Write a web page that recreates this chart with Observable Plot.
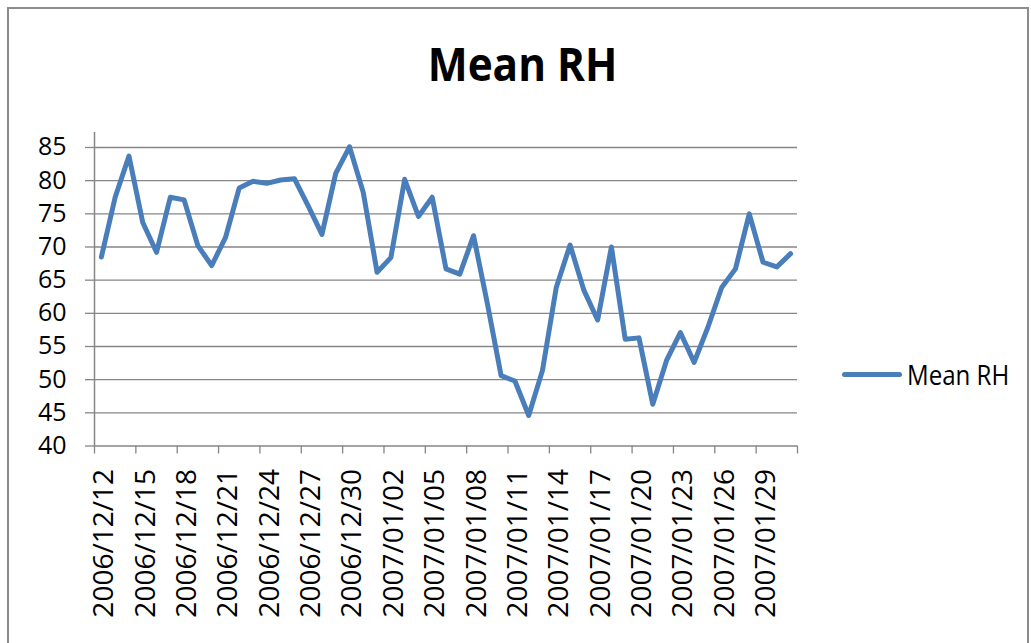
<!DOCTYPE html>
<html>
<head>
<meta charset="utf-8">
<script src="https://cdn.jsdelivr.net/npm/d3@7"></script>
<script src="https://cdn.jsdelivr.net/npm/@observablehq/plot@0.6"></script>
<style>
  html, body { margin: 0; padding: 0; background: #fff; }
  #wrap { position: relative; width: 1031px; height: 643px; overflow: hidden; font-family: "Open Sans", sans-serif; background: #fff; }
  #frame { position: absolute; left: 7px; top: 7px; width: 1022px; height: 700px; border: 2px solid #8c8c8c; box-sizing: border-box; }
  #title { position: absolute; left: 0; top: 40px; width: 1045px; text-align: center; font-weight: 700; font-size: 47px; line-height: 1; transform: scaleX(0.9); transform-origin: 522.5px 0; color: #000; }
  #chart { position: absolute; left: 0; top: 0; }
  #legend { position: absolute; left: 842px; top: 360px; height: 30px; }
  #legend .swatch { position: absolute; left: 0; top: 11.5px; width: 60px; height: 5px; background: #4a7ebb; border-radius: 3px; }
  #legend .lab { position: absolute; left: 65px; top: 0; font-size: 28px; line-height: 1; white-space: nowrap; transform: scaleX(0.86); transform-origin: 0 0; color: #000; }
</style>
</head>
<body>
<div id="wrap">
  <div id="frame"></div>
  <div id="chart"></div>
  <div id="title"></div>
  <div id="legend"><div class="swatch"></div><div class="lab"></div></div>
</div>
<script>
// ---- data ----
const title = "Mean RH";
const seriesName = "Mean RH";
const dates = [
  "2006/12/12","2006/12/13","2006/12/14","2006/12/15","2006/12/16","2006/12/17","2006/12/18",
  "2006/12/19","2006/12/20","2006/12/21","2006/12/22","2006/12/23","2006/12/24","2006/12/25",
  "2006/12/26","2006/12/27","2006/12/28","2006/12/29","2006/12/30","2006/12/31",
  "2007/01/01","2007/01/02","2007/01/03","2007/01/04","2007/01/05","2007/01/06","2007/01/07",
  "2007/01/08","2007/01/09","2007/01/10","2007/01/11","2007/01/12","2007/01/13","2007/01/14",
  "2007/01/15","2007/01/16","2007/01/17","2007/01/18","2007/01/19","2007/01/20","2007/01/21",
  "2007/01/22","2007/01/23","2007/01/24","2007/01/25","2007/01/26","2007/01/27","2007/01/28",
  "2007/01/29","2007/01/30","2007/01/31"
];
const meanRH = [
  68.5, 77.5, 83.7, 73.7, 69.2, 77.5, 77.1, 70.2, 67.2, 71.4,
  78.9, 79.9, 79.6, 80.1, 80.3, 76.2, 71.9, 81.1, 85.1, 78.2,
  66.2, 68.4, 80.2, 74.6, 77.5, 66.7, 65.9, 71.7, 61.5, 50.6,
  49.8, 44.6, 51.4, 63.9, 70.3, 63.5, 59.0, 70.0, 56.1, 56.3,
  46.3, 52.9, 57.1, 52.6, 57.9, 63.9, 66.7, 75.0, 67.7, 67.0,
  69.0
];
const yTicks = [40, 45, 50, 55, 60, 65, 70, 75, 80, 85];
const labelEvery = 3;

// ---- derived ----
const rows = meanRH.map((v, i) => ({date: dates[i], idx: i, rh: v}));
const n = dates.length;
const catBounds = d3.range(0, n + 1, labelEvery);
const labelPos = d3.range(0, n, labelEvery).map(i => i + 0.5);

document.getElementById("title").textContent = title;
document.querySelector("#legend .lab").textContent = seriesName;

const grey = "#868686";
const chart = Plot.plot({
  width: 1031,
  height: 643,
  marginLeft: 94,
  marginRight: 234,
  marginTop: 132,
  marginBottom: 197.5,
  style: {fontFamily: "'Open Sans', sans-serif", background: "transparent", color: "#000"},
  x: {type: "linear", domain: [0, n]},
  y: {domain: [40, 87.26]},
  marks: [
    Plot.gridY(yTicks, {stroke: grey, strokeOpacity: 1, strokeWidth: 1.3}),
    Plot.ruleX([0], {stroke: grey, strokeWidth: 1.5}),
    Plot.axisY(yTicks, {tickSize: 9, tickPadding: 19, fontSize: 25, stroke: grey, strokeWidth: 1.3, color: "#000", label: null}),
    Plot.axisX(catBounds, {tickSize: 8, tickFormat: () => "", stroke: grey, strokeWidth: 1.3, label: null}),
    Plot.axisX(labelPos, {tickSize: 0, tickPadding: 23, tickRotate: -90, fontSize: 28, color: "#000", dx: 3,
      tickFormat: v => dates[Math.round(v - 0.5)], label: null}),
    Plot.line(rows, {x: d => d.idx + 0.5, y: "rh", stroke: "#4a7ebb", strokeWidth: 5,
      strokeLinejoin: "round", strokeLinecap: "round"})
  ]
});
document.getElementById("chart").appendChild(chart);
</script>
</body>
</html>
